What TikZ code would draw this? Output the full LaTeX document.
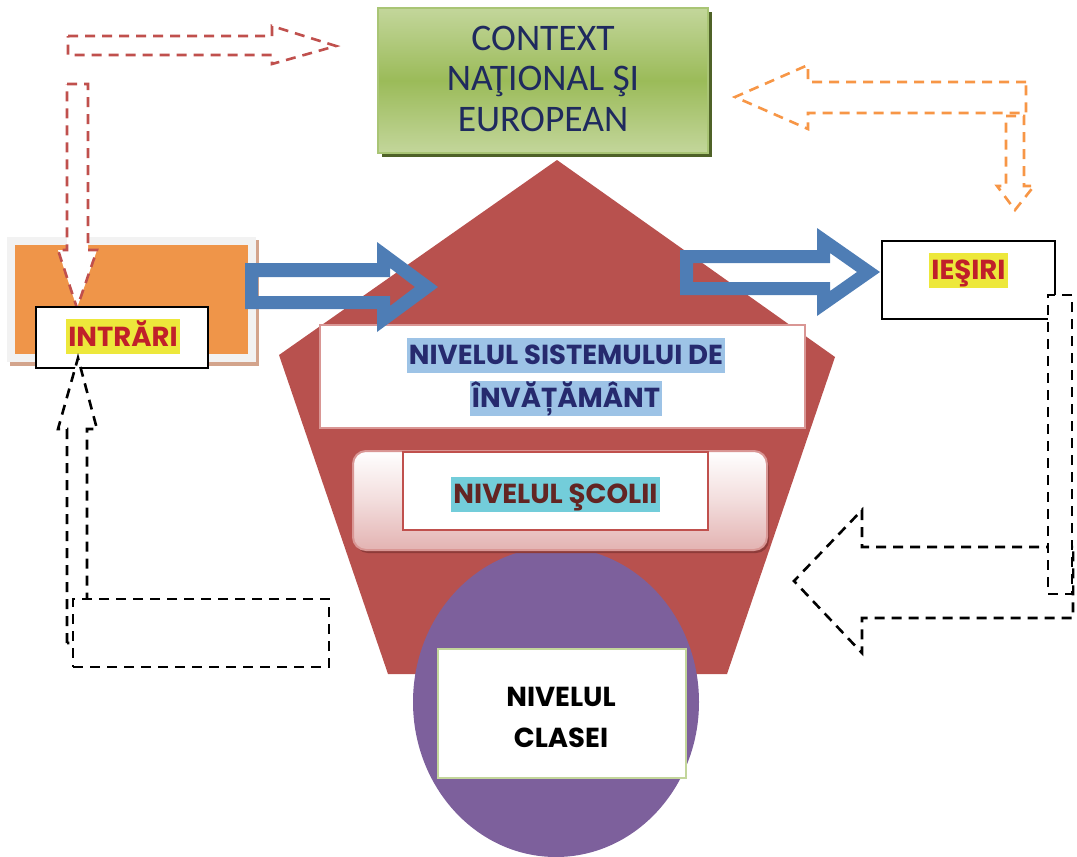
\documentclass[tikz,border=0pt]{standalone}
\usepackage{fontspec}
\newfontfamily\ctxfont{Carlito}
\newfontfamily\lvlfont{Poppins}
\usetikzlibrary{shapes.geometric}

\definecolor{ctxlight}{HTML}{C3D69B}
\definecolor{ctxgreen}{HTML}{9BBB59}
\definecolor{ctxedge}{HTML}{A9C575}
\definecolor{ctxshadow}{HTML}{4F6228}
\definecolor{ctxtext}{HTML}{1F2A5E}
\definecolor{orangefill}{HTML}{EF9549}
\definecolor{greyrim}{HTML}{F2F2F2}
\definecolor{tanshadow}{HTML}{D3A48C}
\definecolor{reddash}{HTML}{C0504D}
\definecolor{orangedash}{HTML}{F79646}
\definecolor{arrowblue}{HTML}{4E7DB5}
\definecolor{pentred}{HTML}{B8514E}
\definecolor{classpurple}{HTML}{7D609C}
\definecolor{pinkedge}{HTML}{D99694}
\definecolor{schoolpink}{HTML}{E3B3B2}
\definecolor{schoolshadow}{HTML}{8E3B39}
\definecolor{schoolred}{HTML}{C0504D}
\definecolor{classedge}{HTML}{C3D69B}
\definecolor{labelred}{HTML}{C0202A}
\definecolor{hlyellow}{HTML}{EDE83B}
\definecolor{hlblue}{HTML}{9DC3E6}
\definecolor{hlcyan}{HTML}{73CDDA}
\definecolor{navytext}{HTML}{262A6E}
\definecolor{darkred}{HTML}{632523}

\tikzset{
  ctxlabel/.style={anchor=base, inner sep=0, text=ctxtext,
    font=\ctxfont\fontsize{37.5pt}{40pt}\selectfont},
  lvlfontstyle/.style={font=\lvlfont\bfseries\fontsize{27.5pt}{30pt}\selectfont},
  hl/.style={inner xsep=2pt, inner ysep=0pt, text height=27pt, text depth=8pt, lvlfontstyle},
  plainbox/.style={rectangle, inner sep=0, draw=black, line width=1.2pt, fill=white},
  reddashed/.style={draw=reddash, line width=2.6pt, dash pattern=on 10pt off 7pt, fill=white},
  orangedashed/.style={draw=orangedash, line width=2.6pt, dash pattern=on 10pt off 7pt, fill=white},
  blackdashed/.style={draw=black, line width=2.6pt, dash pattern=on 10pt off 7pt, fill=white},
  blackdashbox/.style={rectangle, inner sep=0, blackdashed},
  blockarrow/.style={fill=arrowblue, even odd rule},
}

\begin{document}
\begin{tikzpicture}[x=1pt, y=-1pt]
\useasboundingbox (0,0) rectangle (1077,857);

% context box with its shadow
\node[rectangle, inner sep=0, fill=ctxshadow, minimum width=330, minimum height=145] (ctxsh) at (547,84.5) {};
\node[rectangle, inner sep=0, draw=ctxedge, line width=1.5pt,
      top color=ctxlight, bottom color=ctxlight, middle color=ctxgreen,
      minimum width=330, minimum height=145] (ctx) at (543,80.5) {};
\node[ctxlabel] (ctx1) at (543,50) {CONTEXT};
\node[ctxlabel] (ctx2) at (543,90.5) {NAŢIONAL ŞI};
\node[ctxlabel] (ctx3) at (543,131) {EUROPEAN};

% input block
\node[rectangle, inner sep=0, fill=tanshadow, minimum width=249, minimum height=126] (insh) at (134.5,303) {};
\node[rectangle, inner sep=0, fill=greyrim, minimum width=249, minimum height=125] (inrim) at (131.5,299.5) {};
\node[rectangle, inner sep=0, fill=orangefill, minimum width=233, minimum height=109] (inblock) at (131.5,299.5) {};

% feedback arrows from the input towards the context
\draw[reddashed] (68,36) -- (272,36) -- (272,26) -- (336,46) -- (272,64) -- (272,55) -- (68,55) -- cycle;
\draw[reddashed] (67,84) -- (88,84) -- (88,250) -- (97,250) -- (77,308) -- (58,250) -- (67,250) -- cycle;

\node[plainbox, minimum width=172, minimum height=61] (inbox) at (122,337.5) {};
\node[hl, fill=hlyellow, text=labelred] (intrari) at (123,336.5) {INTRĂRI};

% the system pentagon and the class level
\fill[pentred] (557,160) -- (835,357) -- (727,674) -- (388,674) -- (279,355) -- cycle;
\node[ellipse, inner sep=0, fill=classpurple, minimum width=286, minimum height=310] (classell) at (556,702) {};

\node[rectangle, inner sep=0, draw=pinkedge, line width=2.5pt, fill=white,
      minimum width=485, minimum height=103] (sysbox) at (562.5,376.5) {};
\node[hl, fill=hlblue, text=navytext] (sys1) at (566,355) {NIVELUL SISTEMULUI DE\hspace{9pt}};
\node[hl, fill=hlblue, text=navytext] (sys2) at (566,398) {ÎNVĂȚĂMÂNT\hspace{9pt}};

\node[rectangle, rounded corners=13pt, inner sep=0, fill=schoolshadow,
      minimum width=414, minimum height=99] (schoolsh) at (562,503.5) {};
\node[rectangle, rounded corners=13pt, inner sep=0, draw=pinkedge, line width=2pt,
      top color=white, bottom color=schoolpink, middle color=white!55!schoolpink,
      minimum width=414, minimum height=99] (schoolbox) at (560,500.5) {};
\node[rectangle, inner sep=0, draw=schoolred, line width=1.2pt, fill=white,
      minimum width=305, minimum height=78] (schoolin) at (555.5,491) {};
\node[hl, fill=hlcyan, text=darkred] (school) at (555.5,494) {NIVELUL ŞCOLII};

\node[rectangle, inner sep=0, draw=classedge, line width=2pt, fill=white,
      minimum width=248, minimum height=129] (classbox) at (562,713.5) {};
\node[anchor=base, inner sep=0, lvlfontstyle] (class1) at (561,706) {NIVELUL};
\node[anchor=base, inner sep=0, lvlfontstyle] (class2) at (561,747) {CLASEI};

% flow arrows
\fill[blockarrow] (245,263) -- (377,263) -- (377,242) -- (438,287) -- (377,332) -- (377,309) -- (245,309) -- cycle
                  (258,277) -- (390,277) -- (390,268) -- (415,287) -- (390,306) -- (390,296) -- (258,296) -- cycle;
\fill[blockarrow] (680,250) -- (817,250) -- (817,228) -- (880,272) -- (817,316) -- (817,295) -- (680,295) -- cycle
                  (693,263) -- (830,263) -- (830,253) -- (857,272) -- (830,291) -- (830,282) -- (693,282) -- cycle;

% feedback arrows from the outputs towards the context
\draw[orangedashed] (1026,82) -- (808,82) -- (808,65) -- (735,97) -- (808,129) -- (808,113) -- (1026,113) -- cycle;
\draw[orangedashed] (1006,116) -- (1024,116) -- (1024,186) -- (1034,186) -- (1015,210) -- (997,186) -- (1006,186) -- cycle;

\node[plainbox, minimum width=173, minimum height=78] (outbox) at (968.5,280) {};
\node[hl, fill=hlyellow, text=labelred] (iesiri) at (968.5,270) {IEŞIRI};

% return loop from the outputs back to the inputs
\draw[blackdashed] (1073,547) -- (862,547) -- (862,510) -- (794,581) -- (862,653) -- (862,618) -- (1073,618) -- cycle;
\node[blackdashbox, minimum width=24, minimum height=299] (outrect) at (1060,444.5) {};

\draw[blackdashed] (67,643) -- (67,429) -- (58,429) -- (78,358) -- (97,429) -- (87,429) -- (87,643) -- cycle;
\node[blackdashbox, minimum width=256, minimum height=68] (backrect) at (201,633) {};
\end{tikzpicture}
\end{document}
